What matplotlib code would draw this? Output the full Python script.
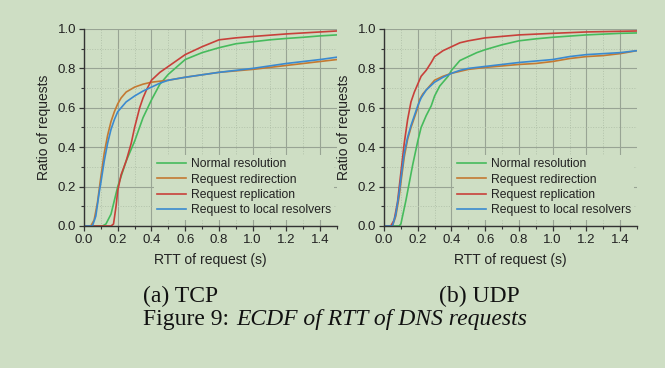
import matplotlib.pyplot as plt
from matplotlib.ticker import MultipleLocator, FormatStrFormatter

BG = '#cedec4'
labels = ['Normal resolution', 'Request redirection', 'Request replication',
          'Request to local resolvers']
colors = ['#46bb5c', '#c47a32', '#c8403a', '#3a8ad0']

# TCP curves (RTT in s, cumulative ratio)
tcp_normal_x = [0, 0.11, 0.13, 0.16, 0.2, 0.25, 0.3, 0.35, 0.4, 0.45, 0.5, 0.6, 0.7,
                0.8, 0.9, 1.0, 1.1, 1.2, 1.3, 1.4, 1.5]
tcp_normal_y = [0, 0, 0.01, 0.06, 0.2, 0.33, 0.43, 0.55, 0.64, 0.72, 0.77, 0.845, 0.88,
                0.905, 0.925, 0.935, 0.945, 0.952, 0.958, 0.965, 0.97]
tcp_redir_x = [0, 0.04, 0.06, 0.08, 0.1, 0.12, 0.14, 0.16, 0.18, 0.2, 0.22, 0.25, 0.3,
               0.35, 0.4, 0.5, 0.6, 0.8, 1.0, 1.2, 1.4, 1.5]
tcp_redir_y = [0, 0, 0.03, 0.12, 0.25, 0.37, 0.46, 0.53, 0.58, 0.62, 0.65, 0.68, 0.705,
               0.72, 0.73, 0.74, 0.755, 0.78, 0.795, 0.815, 0.835, 0.845]
tcp_repl_x = [0, 0.16, 0.175, 0.19, 0.2, 0.22, 0.25, 0.28, 0.3, 0.33, 0.35, 0.37, 0.4,
              0.45, 0.5, 0.55, 0.6, 0.7, 0.8, 0.9, 1.0, 1.2, 1.4, 1.5]
tcp_repl_y = [0, 0, 0.01, 0.1, 0.18, 0.26, 0.33, 0.42, 0.5, 0.6, 0.65, 0.69, 0.74,
              0.78, 0.81, 0.84, 0.87, 0.91, 0.945, 0.955, 0.962, 0.975, 0.985, 0.99]
tcp_local_x = [0, 0.05, 0.07, 0.09, 0.1, 0.12, 0.14, 0.16, 0.18, 0.2, 0.25, 0.3, 0.35,
               0.4, 0.45, 0.5, 0.6, 0.8, 1.0, 1.2, 1.4, 1.5]
tcp_local_y = [0, 0, 0.05, 0.17, 0.22, 0.33, 0.42, 0.49, 0.54, 0.58, 0.63, 0.66, 0.685,
               0.705, 0.725, 0.74, 0.755, 0.78, 0.80, 0.825, 0.845, 0.857]

# UDP curves
udp_normal_x = [0, 0.09, 0.1, 0.11, 0.13, 0.15, 0.17, 0.2, 0.22, 0.25, 0.28, 0.3, 0.33,
                0.36, 0.38, 0.4, 0.43, 0.45, 0.5, 0.55, 0.6, 0.7, 0.8, 0.9, 1.0, 1.2,
                1.4, 1.5]
udp_normal_y = [0, 0, 0.01, 0.05, 0.13, 0.22, 0.31, 0.43, 0.5, 0.56, 0.61, 0.66, 0.71,
                0.74, 0.76, 0.79, 0.82, 0.84, 0.86, 0.88, 0.895, 0.92, 0.94, 0.95,
                0.958, 0.97, 0.978, 0.98]
udp_redir_x = [0, 0.05, 0.07, 0.09, 0.1, 0.12, 0.14, 0.16, 0.18, 0.2, 0.21, 0.23, 0.25,
               0.28, 0.3, 0.35, 0.4, 0.45, 0.5, 0.6, 0.8, 0.9, 1.0, 1.1, 1.2, 1.3, 1.4,
               1.5]
udp_redir_y = [0, 0, 0.05, 0.15, 0.22, 0.35, 0.44, 0.5, 0.55, 0.6, 0.64, 0.67, 0.69,
               0.72, 0.74, 0.76, 0.775, 0.785, 0.795, 0.805, 0.82, 0.825, 0.835, 0.85,
               0.86, 0.865, 0.875, 0.89]
udp_repl_x = [0, 0.04, 0.06, 0.08, 0.1, 0.12, 0.14, 0.16, 0.18, 0.2, 0.22, 0.25, 0.28,
              0.3, 0.35, 0.4, 0.45, 0.5, 0.6, 0.8, 1.0, 1.2, 1.5]
udp_repl_y = [0, 0, 0.03, 0.12, 0.27, 0.42, 0.54, 0.63, 0.68, 0.72, 0.76, 0.79, 0.83,
              0.86, 0.89, 0.91, 0.93, 0.94, 0.955, 0.97, 0.978, 0.985, 0.99]
udp_local_x = [0, 0.05, 0.07, 0.09, 0.1, 0.12, 0.14, 0.16, 0.18, 0.2, 0.22, 0.25, 0.3,
               0.35, 0.4, 0.45, 0.5, 0.6, 0.8, 1.0, 1.1, 1.2, 1.4, 1.5]
udp_local_y = [0, 0, 0.06, 0.17, 0.24, 0.37, 0.45, 0.51, 0.56, 0.61, 0.65, 0.69, 0.73,
               0.755, 0.775, 0.79, 0.80, 0.81, 0.83, 0.845, 0.86, 0.87, 0.88, 0.89]

tcp = [(tcp_normal_x, tcp_normal_y), (tcp_redir_x, tcp_redir_y),
       (tcp_repl_x, tcp_repl_y), (tcp_local_x, tcp_local_y)]
udp = [(udp_normal_x, udp_normal_y), (udp_redir_x, udp_redir_y),
       (udp_repl_x, udp_repl_y), (udp_local_x, udp_local_y)]

plt.rcParams['font.family'] = ['Liberation Sans', 'DejaVu Sans']

fig = plt.figure(figsize=(6.65, 3.68), dpi=100, facecolor=BG)
W, H = 665, 368


def panel(left, curves):
    ax = fig.add_axes([left / W, (H - 226) / H, 253 / W, 197 / H])
    ax.set_facecolor(BG)
    for (x, y), c, lab in zip(curves, colors, labels):
        ax.plot(x, y, color=c, lw=1.2, label=lab)
    ax.set_xlim(0, 1.5)
    ax.set_ylim(0, 1.0)
    ax.xaxis.set_major_locator(MultipleLocator(0.2))
    ax.xaxis.set_minor_locator(MultipleLocator(0.1))
    ax.yaxis.set_major_locator(MultipleLocator(0.2))
    ax.yaxis.set_minor_locator(MultipleLocator(0.1))
    ax.xaxis.set_major_formatter(FormatStrFormatter('%.1f'))
    ax.yaxis.set_major_formatter(FormatStrFormatter('%.1f'))
    ax.grid(which='major', color='#98a494', lw=0.8)
    ax.grid(which='minor', color='#b2c2aa', lw=0.7, ls=':')
    ax.set_axisbelow(True)
    for s in ['top', 'right']:
        ax.spines[s].set_visible(False)
    for s in ['left', 'bottom']:
        ax.spines[s].set_color('#333333')
        ax.spines[s].set_linewidth(1.0)
    ax.tick_params(which='major', direction='out', length=3.5, width=0.9,
                   color='#333333', labelsize=9.5, labelcolor='#222222', pad=2)
    ax.tick_params(which='minor', direction='out', length=2, width=0.8, color='#333333')
    ax.set_xlabel('RTT of request (s)', fontsize=10, color='#222222', labelpad=5)
    ax.set_ylabel('Ratio of requests', fontsize=10, color='#222222', labelpad=5)
    leg = ax.legend(loc='lower right', bbox_to_anchor=(0.99, 0.03), fontsize=8.7,
                    handlelength=2.4, handletextpad=0.35, labelspacing=0.28,
                    borderpad=0.3, borderaxespad=0, frameon=True, fancybox=False,
                    facecolor=BG, edgecolor='none', framealpha=1)
    for t in leg.get_texts():
        t.set_color('#222222')
    return ax


panel(84, tcp)
panel(384, udp)

serif = ['Liberation Serif', 'DejaVu Serif']
fig.text(181 / W, 1 - 296 / H, '(a) TCP', family=serif, fontsize=17,
         ha='center', va='center', color='#111111')
fig.text(479 / W, 1 - 296 / H, '(b) UDP', family=serif, fontsize=17,
         ha='center', va='center', color='#111111')
fig.text(143 / W, 1 - 319 / H, 'Figure 9:', family=serif, fontsize=17,
         ha='left', va='center', color='#111111')
fig.text(236 / W, 1 - 319 / H, 'ECDF of RTT of DNS requests', family=serif,
         style='italic', fontsize=17, ha='left', va='center', color='#111111')

fig.savefig('out.png', dpi=100, facecolor=BG)
